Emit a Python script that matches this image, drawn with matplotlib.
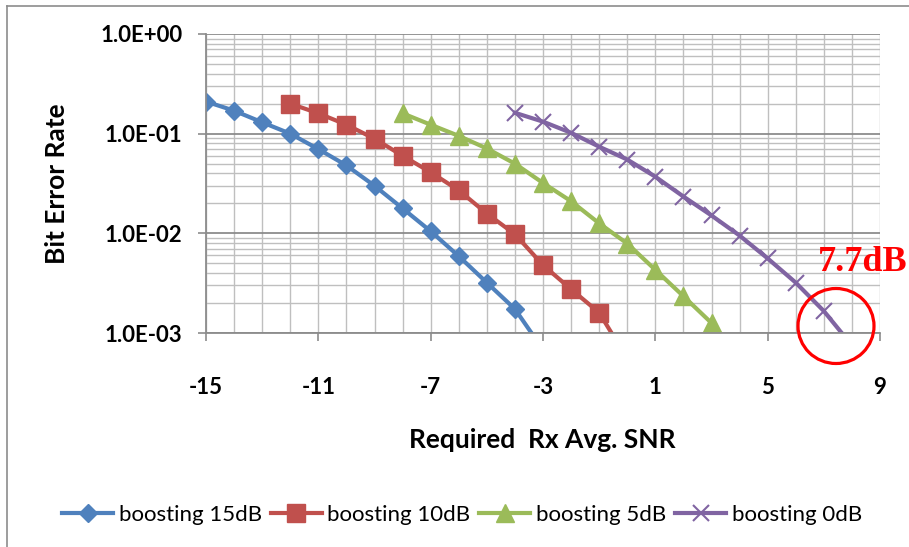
import numpy as np
import matplotlib.pyplot as plt
from matplotlib.lines import Line2D
from matplotlib.patches import Ellipse
from matplotlib.ticker import FixedLocator, LogLocator, NullFormatter

plt.rcParams['font.family'] = ['Lato', 'DejaVu Sans']

# data
snr_15 = [-15, -14, -13, -12, -11, -10, -9, -8, -7, -6, -5, -4, -3]
ber_15 = [0.21, 0.17, 0.13, 0.10, 0.07, 0.048, 0.030, 0.0178, 0.0105, 0.0059, 0.0032, 0.00174, 0.00068]
snr_10 = [-12, -11, -10, -9, -8, -7, -6, -5, -4, -3, -2, -1, 0]
ber_10 = [0.20, 0.16, 0.123, 0.089, 0.060, 0.041, 0.027, 0.0158, 0.0098, 0.0048, 0.00275, 0.0016, 0.00055]
snr_5 = [-8, -7, -6, -5, -4, -3, -2, -1, 0, 1, 2, 3]
ber_5 = [0.16, 0.123, 0.095, 0.071, 0.050, 0.032, 0.021, 0.0126, 0.0079, 0.0043, 0.00234, 0.00126]
snr_0 = [-4, -3, -2, -1, 0, 1, 2, 3, 4, 5, 6, 7, 8]
ber_0 = [0.162, 0.132, 0.102, 0.074, 0.055, 0.037, 0.0234, 0.0151, 0.0095, 0.0056, 0.0032, 0.00166, 0.00075]

labels = ['boosting 15dB', 'boosting 10dB', 'boosting 5dB', 'boosting 0dB']
colors = ['#4F81BD', '#C0504D', '#9BBB59', '#8064A2']
x_ticks = [-15, -11, -7, -3, 1, 5, 9]
y_ticks = [1e0, 1e-1, 1e-2, 1e-3]
y_ticklabels = ['1.0E+00', '1.0E-01', '1.0E-02', '1.0E-03']

fig = plt.figure(figsize=(9.09, 5.47), dpi=100)
ax = fig.add_axes([206/909, 1-333/547, 674/909, 299/547])

ax.set_yscale('log')
ax.set_xlim(-15, 9)
ax.set_ylim(1e-3, 1)

# grid: every 1 dB vertically, log minor horizontally
ax.set_xticks(np.arange(-15, 10, 1), minor=True)
ax.xaxis.set_major_locator(FixedLocator(x_ticks))
ax.yaxis.set_minor_locator(LogLocator(base=10, subs=np.arange(2, 10)))
ax.yaxis.set_minor_formatter(NullFormatter())
ax.grid(True, which='minor', axis='both', color='#BFBFBF', lw=1.0)
ax.grid(True, which='major', axis='x', color='#BFBFBF', lw=1.0)
ax.grid(True, which='major', axis='y', color='#8C8C8C', lw=1.3)
ax.set_axisbelow(True)

ax.plot(snr_15, ber_15, color=colors[0], lw=3, marker='D', ms=9, clip_on=True)
ax.plot(snr_10, ber_10, color=colors[1], lw=3, marker='s', ms=13, clip_on=True)
ax.plot(snr_5, ber_5, color=colors[2], lw=3, marker='^', ms=13, clip_on=True)
ax.plot(snr_0, ber_0, color=colors[3], lw=3, marker='x', ms=11, mew=1.5, clip_on=True)

ax.set_yticks(y_ticks)
ax.set_yticklabels(y_ticklabels)
ax.set_xticks(x_ticks)
ax.set_xticklabels([str(v) for v in x_ticks])
ax.tick_params(axis='y', which='major', direction='out', length=6, width=1.2,
               color='#8C8C8C', pad=11, labelsize=16)
ax.tick_params(axis='x', which='major', direction='out', length=6, width=1.2,
               color='#8C8C8C', pad=26, labelsize=16)
ax.tick_params(which='minor', length=0)
for lab in ax.get_xticklabels() + ax.get_yticklabels():
    lab.set_fontweight('bold')

for side in ['top', 'right']:
    ax.spines[side].set_visible(False)
for side in ['left', 'bottom']:
    ax.spines[side].set_color('#8C8C8C')
    ax.spines[side].set_linewidth(1.3)

fig.text(57/909, 1-184/547, 'Bit Error Rate', rotation=90, ha='center', va='center',
         fontsize=19, fontweight='bold')
fig.text(542/909, 1-440/547, 'Required  Rx Avg. SNR', ha='center', va='center',
         fontsize=19, fontweight='bold')

# annotation
fig.text(818/909, 1-263/547, '7.7dB', ha='left', va='center', color='red',
         fontsize=26, fontweight='bold', family='Liberation Serif')
fig.add_artist(Ellipse((836/909, 1-326/547), 76/909, 75/547, fill=False,
                       edgecolor='red', lw=2.3, transform=fig.transFigure))

# legend
handles = [
    Line2D([], [], color=colors[0], lw=3, marker='D', ms=9),
    Line2D([], [], color=colors[1], lw=3, marker='s', ms=13),
    Line2D([], [], color=colors[2], lw=3, marker='^', ms=13),
    Line2D([], [], color=colors[3], lw=3, marker='x', ms=11, mew=1.5),
]
fig.legend(handles, labels, loc='center', bbox_to_anchor=(462/909, 1-515/547), ncol=4,
           frameon=False, fontsize=16, handlelength=2.3, handletextpad=0.25,
           columnspacing=0.4)

# chart border (left and top only visible)
fig.add_artist(Line2D([7/909, 7/909], [0, 1-6/547], color='#8C8C8C', lw=1.2,
                      transform=fig.transFigure))
fig.add_artist(Line2D([7/909, 1], [1-6/547, 1-6/547], color='#8C8C8C', lw=1.2,
                      transform=fig.transFigure))

fig.savefig('out.png', dpi=100)
